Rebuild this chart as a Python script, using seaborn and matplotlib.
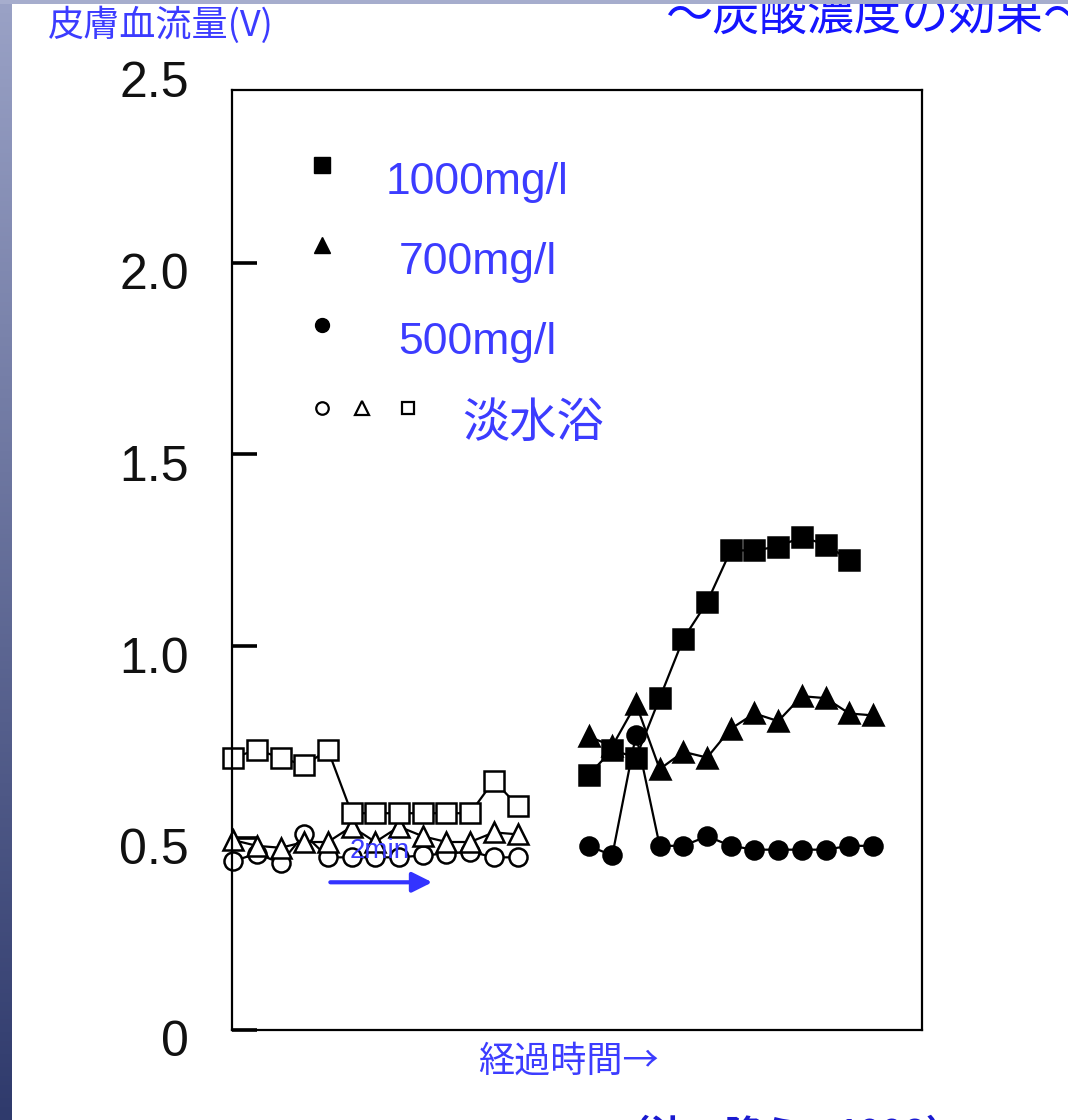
import numpy as np
import pandas as pd
import matplotlib
matplotlib.use("Agg")
import matplotlib.pyplot as plt
import seaborn as sns
from matplotlib.colors import LinearSegmentedColormap
from matplotlib.patches import Rectangle
from matplotlib.transforms import ScaledTranslation

# sample index along the time axis (one sample per interval)
t_fresh = list(range(0, 13))
t_co2 = list(range(15, 28))
t_co2_1000 = list(range(15, 27))

# fresh-water bath (open markers)
fresh_square = [0.71, 0.73, 0.71, 0.69, 0.73, 0.565, 0.565, 0.565, 0.565, 0.565, 0.565, 0.65, 0.585]
fresh_triangle = [0.495, 0.48, 0.475, 0.49, 0.49, 0.53, 0.49, 0.53, 0.505, 0.49, 0.49, 0.515, 0.51]
fresh_circle = [0.44, 0.46, 0.435, 0.51, 0.45, 0.45, 0.45, 0.45, 0.455, 0.46, 0.465, 0.45, 0.45]

# CO2 bath (filled markers)
co2_1000 = [0.665, 0.73, 0.71, 0.865, 1.02, 1.115, 1.25, 1.25, 1.26, 1.285, 1.265, 1.225]
co2_700 = [0.765, 0.74, 0.85, 0.68, 0.725, 0.71, 0.785, 0.825, 0.805, 0.87, 0.865, 0.825, 0.82]
co2_500 = [0.48, 0.455, 0.77, 0.48, 0.48, 0.505, 0.48, 0.47, 0.47, 0.47, 0.47, 0.48, 0.48]

legend_labels = ["1000mg/l", "700mg/l", "500mg/l", "淡水浴"]
ytick_values = [0, 0.5, 1.0, 1.5, 2.0]
ytick_labels = ["0", "0.5", "1.0", "1.5", "2.0"]

sns.set_theme(style="white")
plt.rcParams["font.family"] = ["Liberation Sans", "Noto Sans CJK JP"]
CJK = ["Noto Sans CJK JP", "DejaVu Sans"]
BLUE = "#3c3cff"

W, H = 1068, 1120
fig = plt.figure(figsize=(W / 100, H / 100), dpi=100)
fig.patch.set_facecolor("white")
ax = fig.add_axes([232 / W, 90 / H, 690 / W, 940 / H])
ax.set_facecolor("white")


def draw(t, v, marker, filled, ms):
    df = pd.DataFrame({"t": t, "v": v})
    sns.lineplot(data=df, x="t", y="v", ax=ax, color="black", lw=1.6,
                 marker=marker, markersize=ms,
                 markerfacecolor="black" if filled else "white",
                 markeredgecolor="black", markeredgewidth=1.8,
                 errorbar=None, legend=False, clip_on=False)


draw(t_fresh, fresh_circle, "o", False, 13)
draw(t_fresh, fresh_triangle, "^", False, 14)
draw(t_fresh, fresh_square, "s", False, 15)
draw(t_co2, co2_500, "o", True, 13)
draw(t_co2, co2_700, "^", True, 15)
draw(t_co2_1000, co2_1000, "s", True, 14)

ax.set_xlim(-0.05, 29.07)
ax.set_ylim(0, 2.45)
ax.set_xticks([])
ax.set_yticks(ytick_values)
ax.set_yticklabels(ytick_labels)
ax.set_xlabel("")
ax.set_ylabel("")
ax.tick_params(axis="y", left=True, direction="in", length=18, width=2.6,
               color="black", labelsize=36, pad=31, labelcolor="#111111")
# labels sit a little below their tick marks
drop = ScaledTranslation(0, -6 / 72, fig.dpi_scale_trans)
for lab in ax.get_yticklabels():
    lab.set_transform(lab.get_transform() + drop)
for s in ax.spines.values():
    s.set_visible(True)
    s.set_color("black")
    s.set_linewidth(1.6)
ax.annotate("2.5", xy=(0, 2.5), xycoords=("axes fraction", "data"),
            xytext=(-31, -6), textcoords="offset points", ha="right",
            va="center_baseline", fontsize=36, color="#111111",
            annotation_clip=False)

# legend drawn inside the plot area
leg_kw = dict(transform=ax.transAxes, clip_on=False, color="black", linestyle="none")
ax.plot([0.1304], [0.9202], marker="s", ms=11, mfc="black", mec="black", **leg_kw)
ax.plot([0.1304], [0.8351], marker="^", ms=12, mfc="black", mec="black", **leg_kw)
ax.plot([0.1304], [0.7500], marker="o", ms=10, mfc="black", mec="black", **leg_kw)
ax.plot([0.1304], [0.6617], marker="o", ms=9, mfc="white", mec="black", mew=1.6, **leg_kw)
ax.plot([0.1884], [0.6617], marker="^", ms=10, mfc="white", mec="black", mew=1.6, **leg_kw)
ax.plot([0.2551], [0.6617], marker="s", ms=9, mfc="white", mec="black", mew=1.6, **leg_kw)
for lab, (x, y) in zip(legend_labels[:3], [(0.355, 0.906), (0.357, 0.821), (0.355, 0.736)]):
    ax.text(x, y, lab, transform=ax.transAxes, fontsize=32, color=BLUE,
            ha="center", va="center_baseline")
ax.text(0.436, 0.651, legend_labels[3], transform=ax.transAxes, fontsize=34,
        color=BLUE, ha="center", va="center_baseline", family=CJK)

# time-scale bar
ax.text(6.2, 0.466, "2min", fontsize=20, color=BLUE, ha="center", va="center",
        zorder=5)
ax.annotate("", xy=(8.4, 0.385), xytext=(4.1, 0.385),
            arrowprops=dict(arrowstyle="-|>", color="#3333ff", lw=3,
                            mutation_scale=30, shrinkA=0, shrinkB=0))

# titles and captions
fig.text(48 / W, 1 - 25 / H, "皮膚血流量(V)", fontsize=26, color=BLUE,
         va="center", family=CJK)
fig.text(665 / W, 1 - 30 / H, "〜炭酸濃度の効果〜", fontsize=34, color="#1515ff",
         va="baseline", family=CJK)
fig.text(478 / W, 1 - 1062 / H, "経過時間→", fontsize=26, color=BLUE,
         va="center", family=CJK)
fig.text(612 / W, (H - 1147) / H, "（辻・降ら，1998）", fontsize=27, weight="bold",
         color="#1a1ad0", va="baseline", family=CJK)

# slide frame: gradient bar on the left and strip along the top
bar = fig.add_axes([0, 0, 12 / W, 1], zorder=20)
grad = np.linspace(0, 1, 256).reshape(-1, 1)
cmap = LinearSegmentedColormap.from_list("edge", ["#9aa2c6", "#2f3a6c"])
bar.imshow(grad, aspect="auto", cmap=cmap)
bar.axis("off")
fig.add_artist(Rectangle((0, 1 - 4 / H), 1, 4 / H, transform=fig.transFigure,
                         facecolor="#a6adcd", edgecolor="none", zorder=21))

fig.savefig("out.png", dpi=100, facecolor="white")
